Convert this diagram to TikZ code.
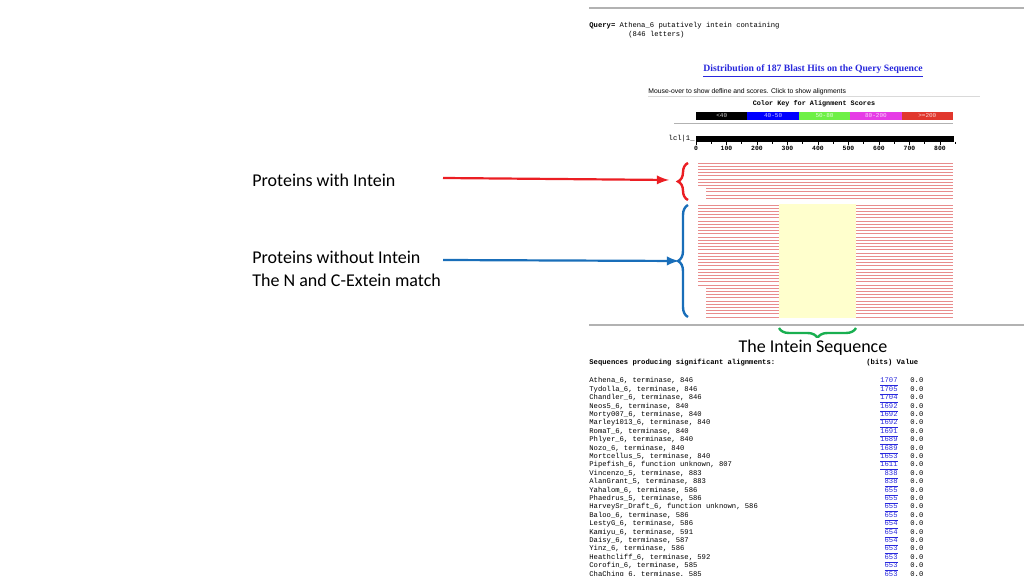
\documentclass[tikz,border=0pt]{standalone}
\usepackage{fontspec}
\setmainfont{Carlito}
\newfontfamily\monofont{Liberation Mono}
\newfontfamily\serifbold{Liberation Serif}
\newfontfamily\uisans{Liberation Sans}
\usetikzlibrary{positioning,decorations.pathreplacing}
\definecolor{hitred}{RGB}{232,140,140}
\definecolor{linkblue}{RGB}{40,40,220}
\definecolor{keygreen}{RGB}{110,240,70}
\definecolor{keymag}{RGB}{230,60,230}
\definecolor{keyred}{RGB}{225,55,45}
\definecolor{introw}{RGB}{255,255,205}
\definecolor{armred}{RGB}{235,30,35}
\definecolor{armblue}{RGB}{25,110,185}
\definecolor{armgreen}{RGB}{25,175,80}
\tikzset{
  mono/.style={font=\monofont\fontsize{3.6}{4}\selectfont, inner sep=0pt, anchor=base west},
  label/.style={font=\fontsize{9}{10.5}\selectfont, inner sep=0pt, anchor=west, align=left},
  hit/.style={hitred, line width=0.35pt},
  rule/.style={gray!60, line width=0.6pt},
}
\newcommand{\linkno}[1]{\textcolor{linkblue}{\underline{#1}}}
\begin{document}
\begin{tikzpicture}[x=0.5pt,y=-0.5pt]
\useasboundingbox (0,0) rectangle (1024,576);
%page rules
\draw[rule] (589,8) -- (1024,8);
\draw[rule] (589,325) -- (1024,325);
%query header
\node[mono] (query) at (589,28) {\bfseries Query=\mdseries{} Athena\_6 putatively intein containing};
\node[mono] (letters) at (628,37) {(846 letters)};
\node[font=\serifbold\bfseries\fontsize{4.85}{5}\selectfont, text=linkblue, inner sep=0pt] (title) at (813,71) {\underline{Distribution of 187 Blast Hits on the Query Sequence}};
\node[font=\uisans\fontsize{3.4}{4}\selectfont, inner sep=0pt, anchor=west] (mouse) at (648,92) {Mouse-over to show defline and scores. Click to show alignments};
\draw[gray!30, line width=0.5pt] (648,97) -- (980,97);
\node[mono, anchor=center, font=\monofont\bfseries\fontsize{3.4}{4}\selectfont] (keytitle) at (814,104) {Color Key for Alignment Scores};
%colour key
\foreach \c/\t [count=\k from 0] in {black/{<40}, blue/{40-50}, keygreen/{50-80}, keymag/{80-200}, keyred/{>=200}}
  \fill[\c] (696+51.4*\k,112) rectangle (747.4+51.4*\k,120)
    node[midway, text=white!80!\c, font=\monofont\fontsize{3}{3}\selectfont, inner sep=0pt] {\t};
\draw[gray!60, line width=0.5pt] (674,124) -- (953,124);
%query ruler
\node[mono, anchor=east] (lcl) at (695,139) {lcl|1\_};
\fill[black] (696,136) rectangle (954,142);
\foreach \u in {0,100,...,800}
  \draw[line width=0.3pt] (696+0.305*\u,142) -- (696+0.305*\u,145)
    node[below=0.3pt, mono, anchor=north, font=\monofont\bfseries\fontsize{3.2}{3}\selectfont] {\u};
\foreach \u in {50,150,...,850}
  \draw[line width=0.3pt] (696+0.305*\u,142) -- (696+0.305*\u,144);
%hits with intein
\foreach \i in {0,...,11} {
  \pgfmathsetmacro{\xs}{\i<8 ? 698 : 706}
  \draw[hit] (\xs,163+3.2*\i) -- (953,163+3.2*\i);
}
%hits without intein
\fill[introw] (779,204) rectangle (856,318);
\foreach \i in {0,...,35} {
  \pgfmathsetmacro{\xs}{\i<26 ? 698 : 706}
  \draw[hit] (\xs,205+3.2*\i) -- (779,205+3.2*\i);
  \draw[hit] (856,205+3.2*\i) -- (953,205+3.2*\i);
}
%braces and arrows
\coordinate (redTop) at (688,200);
\coordinate (redBot) at (688,163);
\coordinate (blueTop) at (688,317);
\coordinate (blueBot) at (688,205);
\coordinate (intL) at (779,328);
\coordinate (intR) at (856,328);
\draw[armred, line width=1.2pt, decorate, decoration={brace, amplitude=5pt}] (redTop) -- (redBot) coordinate[midway, xshift=-3.5pt] (redTip);
\draw[armblue, line width=1.2pt, decorate, decoration={brace, amplitude=5pt}] (blueTop) -- (blueBot) coordinate[midway, xshift=-3.5pt] (blueTip);
\draw[armgreen, line width=1.2pt, decorate, decoration={brace, amplitude=5pt}] (intR) -- (intL);
\node[label] (withInt) at (252,180) {Proteins with Intein};
\node[label] (withoutInt) at (252,257) {Proteins without Intein};
\node[label] (extein) at (252,280) {The N and C-Extein match};
\coordinate (redStart) at (443,178);
\coordinate (blueStart) at (443,260);
\draw[armred, line width=1.1pt, -latex] (redStart) -- ([xshift=-6pt]redTip |- 0,180);
\draw[armblue, line width=1.1pt, -latex] (blueStart) -- ([xshift=-1pt]blueTip |- 0,261);
%hit table
\node[mono] (header) at (589,365) {\bfseries Sequences producing significant alignments:};
\node[mono] (bits) at (866,365) {\bfseries (bits) Value};
\node[label, anchor=center, fill=white, inner sep=1pt, font=\fontsize{9}{10}\selectfont] (intLabel) at (813,348) {The Intein Sequence};
\foreach \n/\s [count=\r from 0] in {
  {Athena\_6, terminase, 846}/1707, {Tydolla\_6, terminase, 846}/1705,
  {Chandler\_6, terminase, 846}/1704, {Neos5\_6, terminase, 840}/1692,
  {Morty007\_6, terminase, 840}/1692, {Marley1013\_6, terminase, 840}/1692,
  {RomaT\_6, terminase, 840}/1691, {Phlyer\_6, terminase, 840}/1689,
  {Nozo\_6, terminase, 840}/1689, {Mortcellus\_5, terminase, 840}/1653,
  {Pipefish\_6, function unknown, 807}/1611, {Vincenzo\_5, terminase, 883}/838,
  {AlanGrant\_5, terminase, 883}/838, {Yahalom\_6, terminase, 586}/655,
  {Phaedrus\_5, terminase, 586}/655, {HarveySr\_Draft\_6, function unknown, 586}/655,
  {Baloo\_6, terminase, 586}/655, {LestyG\_6, terminase, 586}/654,
  {Kamiyu\_6, terminase, 591}/654, {Daisy\_6, terminase, 587}/654,
  {Yinz\_6, terminase, 586}/653, {Heathcliff\_6, terminase, 592}/653,
  {Corofin\_6, terminase, 585}/653, {ChaChing\_6, terminase, 585}/653} {
  \node[mono] (row\r) at (589,383+8.4*\r) {\n};
  \node[mono, anchor=base east] (score\r) at (898,383+8.4*\r) {\linkno{\s}};
  \node[mono] (eval\r) at (910,383+8.4*\r) {0.0};
}
\end{tikzpicture}
\end{document}
